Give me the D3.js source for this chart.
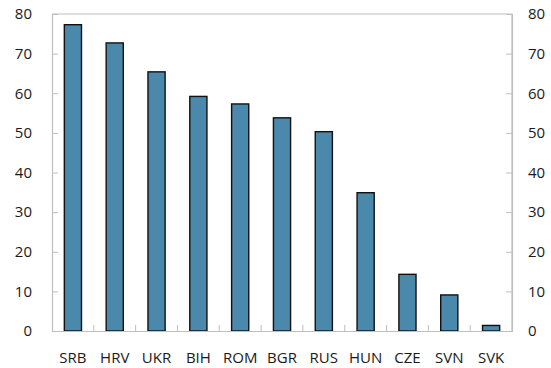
<!DOCTYPE html>
<html>
<head>
<meta charset="utf-8">
<script src="https://cdn.jsdelivr.net/npm/d3@7"></script>
<style>
  body { margin: 0; background: #fff; }
  svg { display: block; }
</style>
</head>
<body>
<svg id="chart"></svg>
<script>
const countries = ["SRB", "HRV", "UKR", "BIH", "ROM", "BGR", "RUS", "HUN", "CZE", "SVN", "SVK"];
const shares = [77.3, 72.7, 65.4, 59.2, 57.3, 53.8, 50.3, 34.9, 14.3, 9.1, 1.4];
const yTicks = [0, 10, 20, 30, 40, 50, 60, 70, 80];

const width = 551,
  height = 368,
  margin = { top: 14, right: 39, bottom: 37, left: 52 };

const data = countries.map((c, i) => ({ country: c, value: shares[i] }));

const x = d3.scaleBand(countries, [margin.left, width - margin.right])
  .paddingInner(0.59)
  .paddingOuter(0.295);
const y = d3.scaleLinear([0, 80], [height - margin.bottom, margin.top]);

const svg = d3.select("#chart").attr("width", width).attr("height", height)
  .style("font-family", "'Open Sans', sans-serif");

const gridColor = "#bfbfbf";

// plot frame (top + right)
svg.append("path")
  .attr("d", `M${margin.left},${margin.top}H${width - margin.right}V${height - margin.bottom}`)
  .attr("fill", "none")
  .attr("stroke", gridColor)
  .attr("stroke-width", 1.2);

// bars
svg.append("g")
  .selectAll("rect")
  .data(data)
  .join("rect")
  .attr("x", d => x(d.country))
  .attr("y", d => y(d.value))
  .attr("width", x.bandwidth())
  .attr("height", d => y(0) - y(d.value))
  .attr("fill", "#4a89ab")
  .attr("stroke", "#111")
  .attr("stroke-width", 1.4);

// left axis
svg.append("g")
  .attr("transform", `translate(${margin.left},0)`)
  .call(d3.axisRight(y).tickValues(yTicks).tickSize(6).tickFormat(""))
  .call(g => g.select(".domain").attr("stroke", gridColor).attr("stroke-width", 1.2))
  .call(g => g.selectAll(".tick line").attr("stroke", gridColor));

svg.append("g")
  .selectAll("text")
  .data(yTicks)
  .join("text")
  .attr("x", 32)
  .attr("y", d => y(d))
  .attr("dy", "0.35em")
  .attr("text-anchor", "end")
  .attr("font-size", 15)
  .attr("fill", "#1a1a1a")
  .text(d => d);

// right axis
svg.append("g")
  .attr("transform", `translate(${width - margin.right},0)`)
  .call(d3.axisLeft(y).tickValues(yTicks).tickSize(6).tickFormat(""))
  .call(g => g.select(".domain").attr("stroke", gridColor).attr("stroke-width", 1.2))
  .call(g => g.selectAll(".tick line").attr("stroke", gridColor));

svg.append("g")
  .selectAll("text")
  .data(yTicks)
  .join("text")
  .attr("x", 528)
  .attr("y", d => y(d))
  .attr("dy", "0.35em")
  .attr("text-anchor", "start")
  .attr("font-size", 15)
  .attr("fill", "#1a1a1a")
  .text(d => d);

// bottom axis: ticks between categories
const step = x.step();
const boundaries = countries.slice(1).map(c => x(c) - (step - x.bandwidth()) / 2);
svg.append("g")
  .attr("transform", `translate(0,${y(0)})`)
  .call(d3.axisBottom(x).tickSize(0).tickFormat(""))
  .call(g => g.select(".domain").attr("stroke", gridColor).attr("stroke-width", 1.2))
  .call(g => g.selectAll(".tick").remove());

svg.append("g")
  .selectAll("line")
  .data(boundaries)
  .join("line")
  .attr("x1", d => d).attr("x2", d => d)
  .attr("y1", y(0)).attr("y2", y(0) - 6)
  .attr("stroke", gridColor);

svg.append("g")
  .selectAll("text")
  .data(countries)
  .join("text")
  .attr("x", d => x(d) + x.bandwidth() / 2)
  .attr("y", 358)
  .attr("dy", "0.35em")
  .attr("text-anchor", "middle")
  .attr("font-size", 15)
  .attr("fill", "#1a1a1a")
  .text(d => d);
</script>
</body>
</html>
